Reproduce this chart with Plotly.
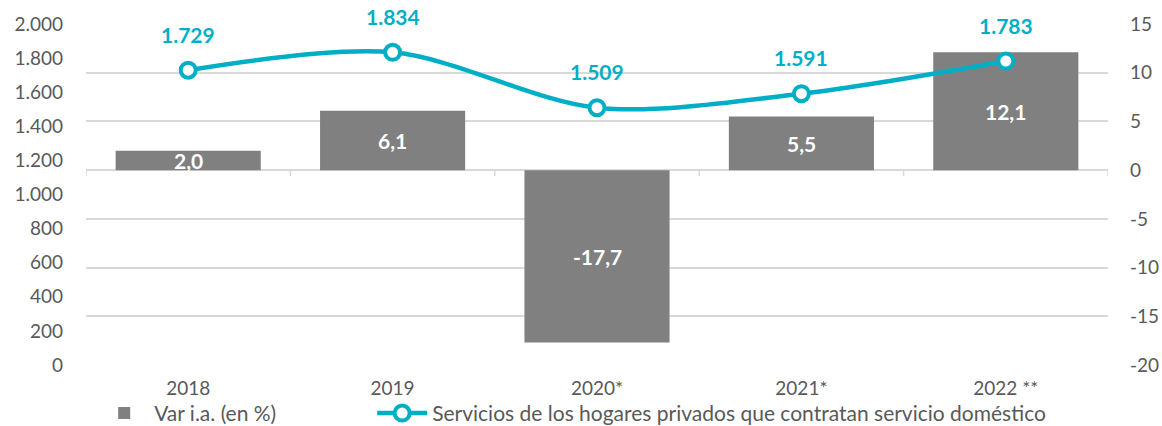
import plotly.graph_objects as go

# Data
years = ["2018", "2019", "2020*", "2021*", "2022 **"]
var_ia = [2.0, 6.1, -17.7, 5.5, 12.1]            # year-on-year change (%)
hogares = [1729, 1834, 1509, 1591, 1783]          # households employing domestic service
pct_ticks = [-20, -15, -10, -5, 0, 5, 10, 15]

bar_name = "Var i.a. (en %)"
line_name = "Servicios de los hogares privados que contratan servicio doméstico"

TEAL = "#00AFC6"
GREY_BAR = "#808080"
TEXT = "#595959"
GRID = "#D9D9D9"
FONT = "Lato"

x = list(range(len(years)))

fig = go.Figure()

fig.add_trace(go.Bar(
    x=x, y=var_ia, name=bar_name,
    marker=dict(color=GREY_BAR, line=dict(width=0)),
    width=0.71, yaxis="y", legend="legend",
))

fig.add_trace(go.Scatter(
    x=x, y=hogares, name=line_name, yaxis="y2", legend="legend2",
    mode="lines+markers",
    line=dict(color=TEAL, width=4.5, shape="spline", smoothing=0.9),
    marker=dict(size=15, color="white", line=dict(color=TEAL, width=4)),
))

# value labels
annotations = []
for xi, v in zip(x, var_ia):
    annotations.append(dict(
        x=xi, y=v / 2, xref="x", yref="y",
        text=f"{v:.1f}".replace(".", ","), showarrow=False,
        font=dict(family=FONT, size=21, color="white", weight="bold"),
    ))
for xi, v in zip(x, hogares):
    annotations.append(dict(
        x=xi, y=v, xref="x", yref="y2", yshift=36,
        text=f"{v:,}".replace(",", "."), showarrow=False,
        font=dict(family=FONT, size=21, color=TEAL, weight="bold"),
    ))

# category axis line at zero with boundary ticks
shapes = [dict(type="line", xref="x", yref="y", x0=-0.5, x1=len(years) - 0.5,
               y0=0, y1=0, line=dict(color=GRID, width=1.5), layer="below")]
for b in range(len(years) + 1):
    shapes.append(dict(type="line", xref="x", yref="y", ysizemode="pixel",
                       yanchor=0, x0=b - 0.5, x1=b - 0.5, y0=0, y1=-6,
                       line=dict(color=GRID, width=1.5), layer="below"))

legend_common = dict(
    orientation="h", xanchor="left", y=-0.142, yanchor="middle",
    font=dict(family=FONT, size=21, color=TEXT),
    itemwidth=50, bgcolor="rgba(0,0,0,0)",
)

fig.update_layout(
    width=1162, height=426,
    margin=dict(l=86, r=54, t=24, b=61, autoexpand=False),
    paper_bgcolor="white", plot_bgcolor="white",
    separators=",.",
    font=dict(family=FONT, size=19, color=TEXT),
    showlegend=True,
    legend=dict(x=0.008, **legend_common),
    legend2=dict(x=0.28, **legend_common),
    xaxis=dict(
        range=[-0.5, len(years) - 0.5],
        tickvals=x, ticktext=years,
        showgrid=False, zeroline=False, showline=False, ticks="",
        ticklabelstandoff=10,
        tickfont=dict(family=FONT, size=19, color=TEXT),
    ),
    yaxis=dict(
        side="right", range=[-20, 15],
        tickvals=pct_ticks, ticktext=[str(t) for t in pct_ticks],
        showgrid=True, gridcolor=GRID, gridwidth=1.5,
        zeroline=False, showline=False, ticks="",
        ticklabelstandoff=21,
        tickfont=dict(family=FONT, size=19, color=TEXT),
    ),
    yaxis2=dict(
        side="left", overlaying="y", range=[0, 2000], dtick=200, tick0=0,
        showgrid=False, zeroline=False, showline=False, ticks="",
        tickformat=",d", ticklabelstandoff=22,
        tickfont=dict(family=FONT, size=19, color=TEXT),
    ),
    annotations=annotations,
    shapes=shapes,
)

fig.write_html("out.html")
